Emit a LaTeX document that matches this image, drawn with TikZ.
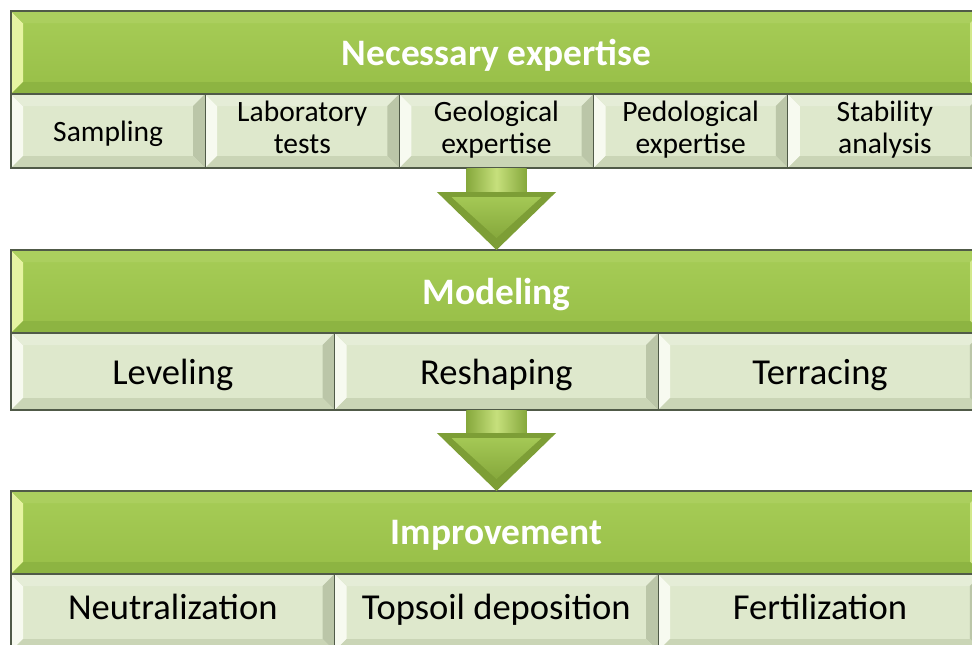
\documentclass[tikz,border=0pt]{standalone}
\usepackage{fontspec}
\setmainfont{Carlito}
\usetikzlibrary{positioning, calc}

\definecolor{edgegray}{HTML}{505A48}
\definecolor{bartop}{HTML}{A7CD57}
\definecolor{barbottom}{HTML}{97BE47}
\definecolor{barlight}{HTML}{E6F4A2}
\definecolor{bartopbev}{HTML}{ABCF5E}
\definecolor{barright}{HTML}{D2E88A}
\definecolor{barbotbev}{HTML}{8DB442}
\definecolor{cellfill}{HTML}{DEE8CC}
\definecolor{celllight}{HTML}{F7FAF0}
\definecolor{celltopbev}{HTML}{E5EDD7}
\definecolor{cellright}{HTML}{BBC6A8}
\definecolor{cellbotbev}{HTML}{CAD5B6}
\definecolor{arrowdark}{HTML}{86A83C}
\definecolor{arrowlight}{HTML}{C6E07C}
\definecolor{arrowface}{HTML}{A4C855}
\definecolor{arrowedge}{HTML}{7D9E36}

% bevel frame inside a box: left, top, right, bottom colours
\def\bev{0.3cm}
\tikzset{
    bevel/.style n args={4}{path picture={
        \path (path picture bounding box.south west) coordinate (bvsw)
              (path picture bounding box.north west) coordinate (bvnw)
              (path picture bounding box.north east) coordinate (bvne)
              (path picture bounding box.south east) coordinate (bvse);
        \fill[#1] (bvsw) -- (bvnw) -- ($(bvnw)+(\bev,-\bev)$) -- ($(bvsw)+(\bev,\bev)$) -- cycle;
        \fill[#2] (bvnw) -- (bvne) -- ($(bvne)+(-\bev,-\bev)$) -- ($(bvnw)+(\bev,-\bev)$) -- cycle;
        \fill[#3] (bvne) -- (bvse) -- ($(bvse)+(-\bev,\bev)$) -- ($(bvne)+(-\bev,-\bev)$) -- cycle;
        \fill[#4] (bvse) -- (bvsw) -- ($(bvsw)+(\bev,\bev)$) -- ($(bvse)+(-\bev,\bev)$) -- cycle;
    }},
    % height of first line, depth of last line
    cellstrut/.style 2 args={execute at begin node={\rule{0pt}{#1}}, execute at end node={\rule[-#2]{0pt}{#2}}}
}

% block arrow from the bottom of one row down to the next bar
\newcommand{\stagearrow}[2]{%
    \coordinate (shafttop) at (#1);
    \coordinate (tip) at (#2);
    \shade[left color=arrowdark, right color=arrowdark, middle color=arrowlight]
        ($(shafttop)+(-0.75,0)$) rectangle ($(tip)+(0.75,1.45)$);
    \fill[arrowedge] ($(tip)+(-1.49,1.45)$) -- ($(tip)+(1.49,1.45)$) -- (tip) -- cycle;
    \shade[top color=arrowface, bottom color=arrowdark]
        ($(tip)+(-1.12,1.32)$) -- ($(tip)+(1.12,1.32)$) -- ($(tip)+(0,0.3)$) -- cycle;
}

\begin{document}
\begin{tikzpicture}[
    bar/.style={rectangle, draw=edgegray, line width=0.8pt, top color=bartop, bottom color=barbottom, minimum width=24.275cm, minimum height=2.075cm, inner sep=0pt, outer sep=0pt, font=\fontsize{26.6}{28}\selectfont\bfseries, text=white, text depth=0pt, bevel={barlight}{bartopbev}{barright}{barbotbev}},
    cell/.style={rectangle, draw=edgegray, line width=0.8pt, fill=cellfill, inner sep=0pt, outer sep=0pt, align=center, text=black, cellstrut={0.95em}{0.25em}, bevel={celllight}{celltopbev}{cellright}{cellbotbev}},
    smallcell/.style={cell, minimum width=4.855cm, minimum height=1.85cm, font=\fontsize{21}{22.5}\selectfont},
    widecell/.style={cell, minimum width=8.09cm, minimum height=1.925cm, font=\fontsize{26}{29}\selectfont},
    lastcell/.style={widecell, cellstrut={0.75em}{0.55em}}
]
    % Frame of the picture
    \useasboundingbox (0,0) rectangle (24.3,-16.1);
    \clip (0,0) rectangle (24.3,-16.1);

    % Stage 1: Necessary expertise
    \node[bar, anchor=north west] (expert) at (0.275,-0.275) {Necessary expertise};
    \node[smallcell, anchor=north west] (sampling) at (expert.south west) {Sampling};
    \node[smallcell, right=0pt of sampling] (labtests) {Laboratory\\tests};
    \node[smallcell, right=0pt of labtests] (geology) {Geological\\expertise};
    \node[smallcell, right=0pt of geology] (pedology) {Pedological\\expertise};
    \node[smallcell, right=0pt of pedology] (stability) {Stability\\analysis};

    % Stage 2: Modeling
    \node[bar, below=2.05cm of sampling.south west, anchor=north west] (modeling) {Modeling};
    \node[widecell, anchor=north west] (leveling) at (modeling.south west) {Leveling};
    \node[widecell, right=0pt of leveling] (reshaping) {Reshaping};
    \node[widecell, right=0pt of reshaping] (terracing) {Terracing};

    % Stage 3: Improvement
    \node[bar, below=2.025cm of leveling.south west, anchor=north west] (improve) {Improvement};
    \node[lastcell, anchor=north west] (neutral) at (improve.south west) {Neutralization};
    \node[lastcell, right=0pt of neutral] (topsoil) {Topsoil deposition};
    \node[lastcell, right=0pt of topsoil] (fertil) {Fertilization};

    % Arrows between stages
    \stagearrow{geology.south}{modeling.north}
    \stagearrow{reshaping.south}{improve.north}

\end{tikzpicture}
\end{document}
